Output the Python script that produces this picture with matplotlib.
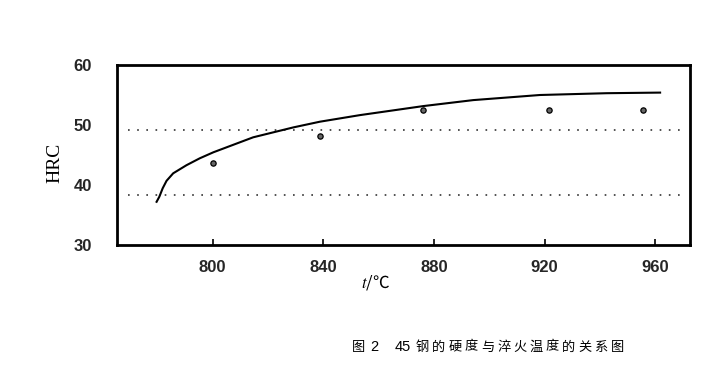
import matplotlib.pyplot as plt

# hardness of 45 steel vs quench temperature
curve_t = [779.8, 780.8, 782.0, 783.4, 785.8, 790.6, 795.4, 800.3, 814.7,
           829.2, 838.8, 853.3, 876.1, 894.2, 918.3, 942.4, 961.7]
curve_hrc = [37.2, 38.05, 39.45, 40.7, 41.95, 43.3, 44.45, 45.45, 47.95,
             49.6, 50.55, 51.65, 53.15, 54.15, 55.0, 55.3, 55.4]

pt_t = [800.1, 838.8, 876.0, 921.6, 955.5]
pt_hrc = [43.6, 48.1, 52.5, 52.5, 52.5]

ref_levels = [49.2, 38.3]

xticks = [800, 840, 880, 920, 960]
yticks = [30, 40, 50, 60]

caption_head = ['图', '2', '45']
caption_body = '钢的硬度与淬火温度的关系图'

plt.rcParams['mathtext.fontset'] = 'stix'
cjk = ['Noto Sans CJK SC', 'DejaVu Sans']

W, H = 707, 366
fig = plt.figure(figsize=(W / 100, H / 100), dpi=100)
ax = fig.add_axes([117 / W, 1 - 245 / H, 573 / W, 180 / H])

for lv in ref_levels:
    ax.plot([769.5, 971.5], [lv, lv], color='#333333', lw=1.2,
            linestyle=(0, (1, 4.5)))

ax.plot(curve_t, curve_hrc, color='black', lw=1.5)
ax.plot(pt_t, pt_hrc, 'o', ms=3.8, mfc='#666666', mec='black', mew=0.9)

ax.set_xlim(765.5, 972.5)
ax.set_ylim(30, 60)
ax.set_xticks(xticks)
ax.set_yticks(yticks)
ax.tick_params(axis='x', direction='in', length=4, width=1.2, pad=11,
               labelsize=12, labelcolor='#262626')
ax.tick_params(axis='y', length=0, pad=18, labelsize=12,
               labelcolor='#262626')
for lab in ax.get_xticklabels() + ax.get_yticklabels():
    lab.set_family('Liberation Sans')
    lab.set_fontweight('bold')
for s in ax.spines.values():
    s.set_linewidth(2)

fig.text(55 / W, 1 - 163 / H, 'HRC', rotation=90, ha='center', va='center',
         family='Liberation Serif', fontsize=14)
fig.text(376 / W, 1 - 282 / H, r'$t$/℃', ha='center', va='center',
         fontsize=12, family=cjk)

# caption, characters spread out like the printed figure
cy = 1 - 347 / H
fig.text(352 / W, cy, caption_head[0], ha='left', va='center', fontsize=9.5,
         family=cjk)
fig.text(370 / W, cy, caption_head[1], ha='left', va='center', fontsize=10.5,
         family=['Liberation Sans'])
fig.text(395 / W, cy, caption_head[2], ha='left', va='center', fontsize=10.5,
         family=['Liberation Sans'])
for i, ch in enumerate(caption_body):
    fig.text((416 + i * 16.2) / W, cy, ch, ha='left', va='center',
             fontsize=9.5, family=cjk)

fig.savefig('out.png', dpi=100)
